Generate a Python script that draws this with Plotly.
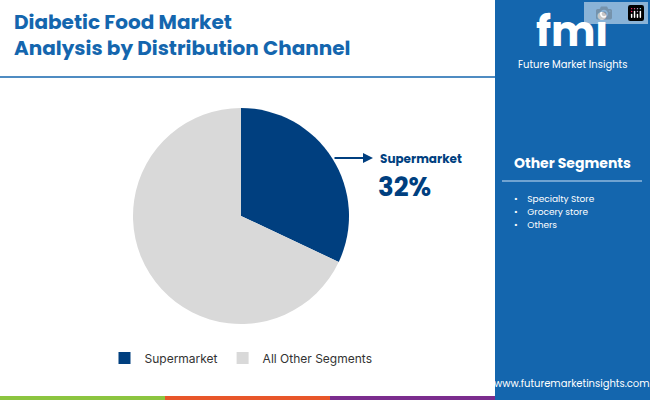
import plotly.graph_objects as go

labels = ['Supermarket', 'All Other Segments']
values = [32, 68]
colors = ['#003f7f', '#d9d9d9']
other_segments = ['Specialty Store', 'Grocery store', 'Others']

fig = go.Figure()
fig.add_trace(go.Pie(labels=labels, values=values, marker=dict(colors=colors),
                     sort=False, direction='clockwise', rotation=0,
                     textinfo='none', hoverinfo='label+percent',
                     domain=dict(x=[133/650, 349/650], y=[76/400, 292/400])))

# right panel
fig.add_shape(type='rect', xref='paper', yref='paper', x0=495/650, x1=1, y0=0, y1=1,
              fillcolor='#1466ae', line_width=0, layer='below')
# header divider
fig.add_shape(type='line', xref='paper', yref='paper', x0=0, x1=495/650,
              y0=1-77/400, y1=1-77/400, line=dict(color='#1466ae', width=1.5))
# bottom strip
for c, x0, x1 in [('#8cc540', 0, 165), ('#e8562a', 165, 330), ('#7b2d8e', 330, 495)]:
    fig.add_shape(type='rect', xref='paper', yref='paper', x0=x0/650, x1=x1/650,
                  y0=0, y1=4/400, fillcolor=c, line_width=0)
# panel divider under heading
fig.add_shape(type='line', xref='paper', yref='paper', x0=502/650, x1=642/650,
              y0=1-181/400, y1=1-181/400, line=dict(color='#8fb8dd', width=1.5))
# arrow
fig.add_annotation(xref='paper', yref='paper', x=373/650, y=1-158/400, ax=-40, ay=0,
                   showarrow=True, arrowhead=2, arrowsize=1, arrowwidth=2,
                   arrowcolor='#003f7f', text='')

ann = [
    dict(x=12, y=35, text='<b>Diabetic Food Market<br>Analysis by Distribution Channel</b>',
         size=20, color='#1466ae', xanchor='left', align='left'),
    dict(x=378, y=158, text='<b>Supermarket</b>', size=12, color='#003f7f', xanchor='left'),
    dict(x=376, y=187, text='<b>32%</b>', size=26, color='#003f7f', xanchor='left'),
    dict(x=572, y=163, text='<b>Other Segments</b>', size=14, color='white', xanchor='center'),
    dict(x=572, y=32, text='<b>fmi</b>', size=42, color='white', xanchor='center'),
    dict(x=572, y=64, text='Future Market Insights', size=10, color='white', xanchor='center'),
    dict(x=572, y=383, text='www.futuremarketinsights.com', size=10, color='white', xanchor='center'),
]
for i, s in enumerate(other_segments):
    ann.append(dict(x=512, y=199 + i * 13, text='•    ' + s, size=9, color='white', xanchor='left'))
for a in ann:
    fig.add_annotation(xref='paper', yref='paper', x=a['x']/650, y=1-a['y']/400,
                       text=a['text'], showarrow=False, xanchor=a['xanchor'],
                       yanchor='middle', align=a.get('align', 'center'),
                       font=dict(family='Poppins, Inter, sans-serif', size=a['size'], color=a['color']))

fig.update_layout(width=650, height=400, margin=dict(l=0, r=0, t=0, b=0),
                  paper_bgcolor='white', plot_bgcolor='white',
                  font=dict(family='Inter, sans-serif', color='#333'),
                  legend=dict(orientation='h', x=241/650, xanchor='center', y=1-358/400,
                              yanchor='middle', font=dict(size=12), itemsizing='constant'))

fig.write_html('out.html', post_script="document.body.style.margin='0';")
